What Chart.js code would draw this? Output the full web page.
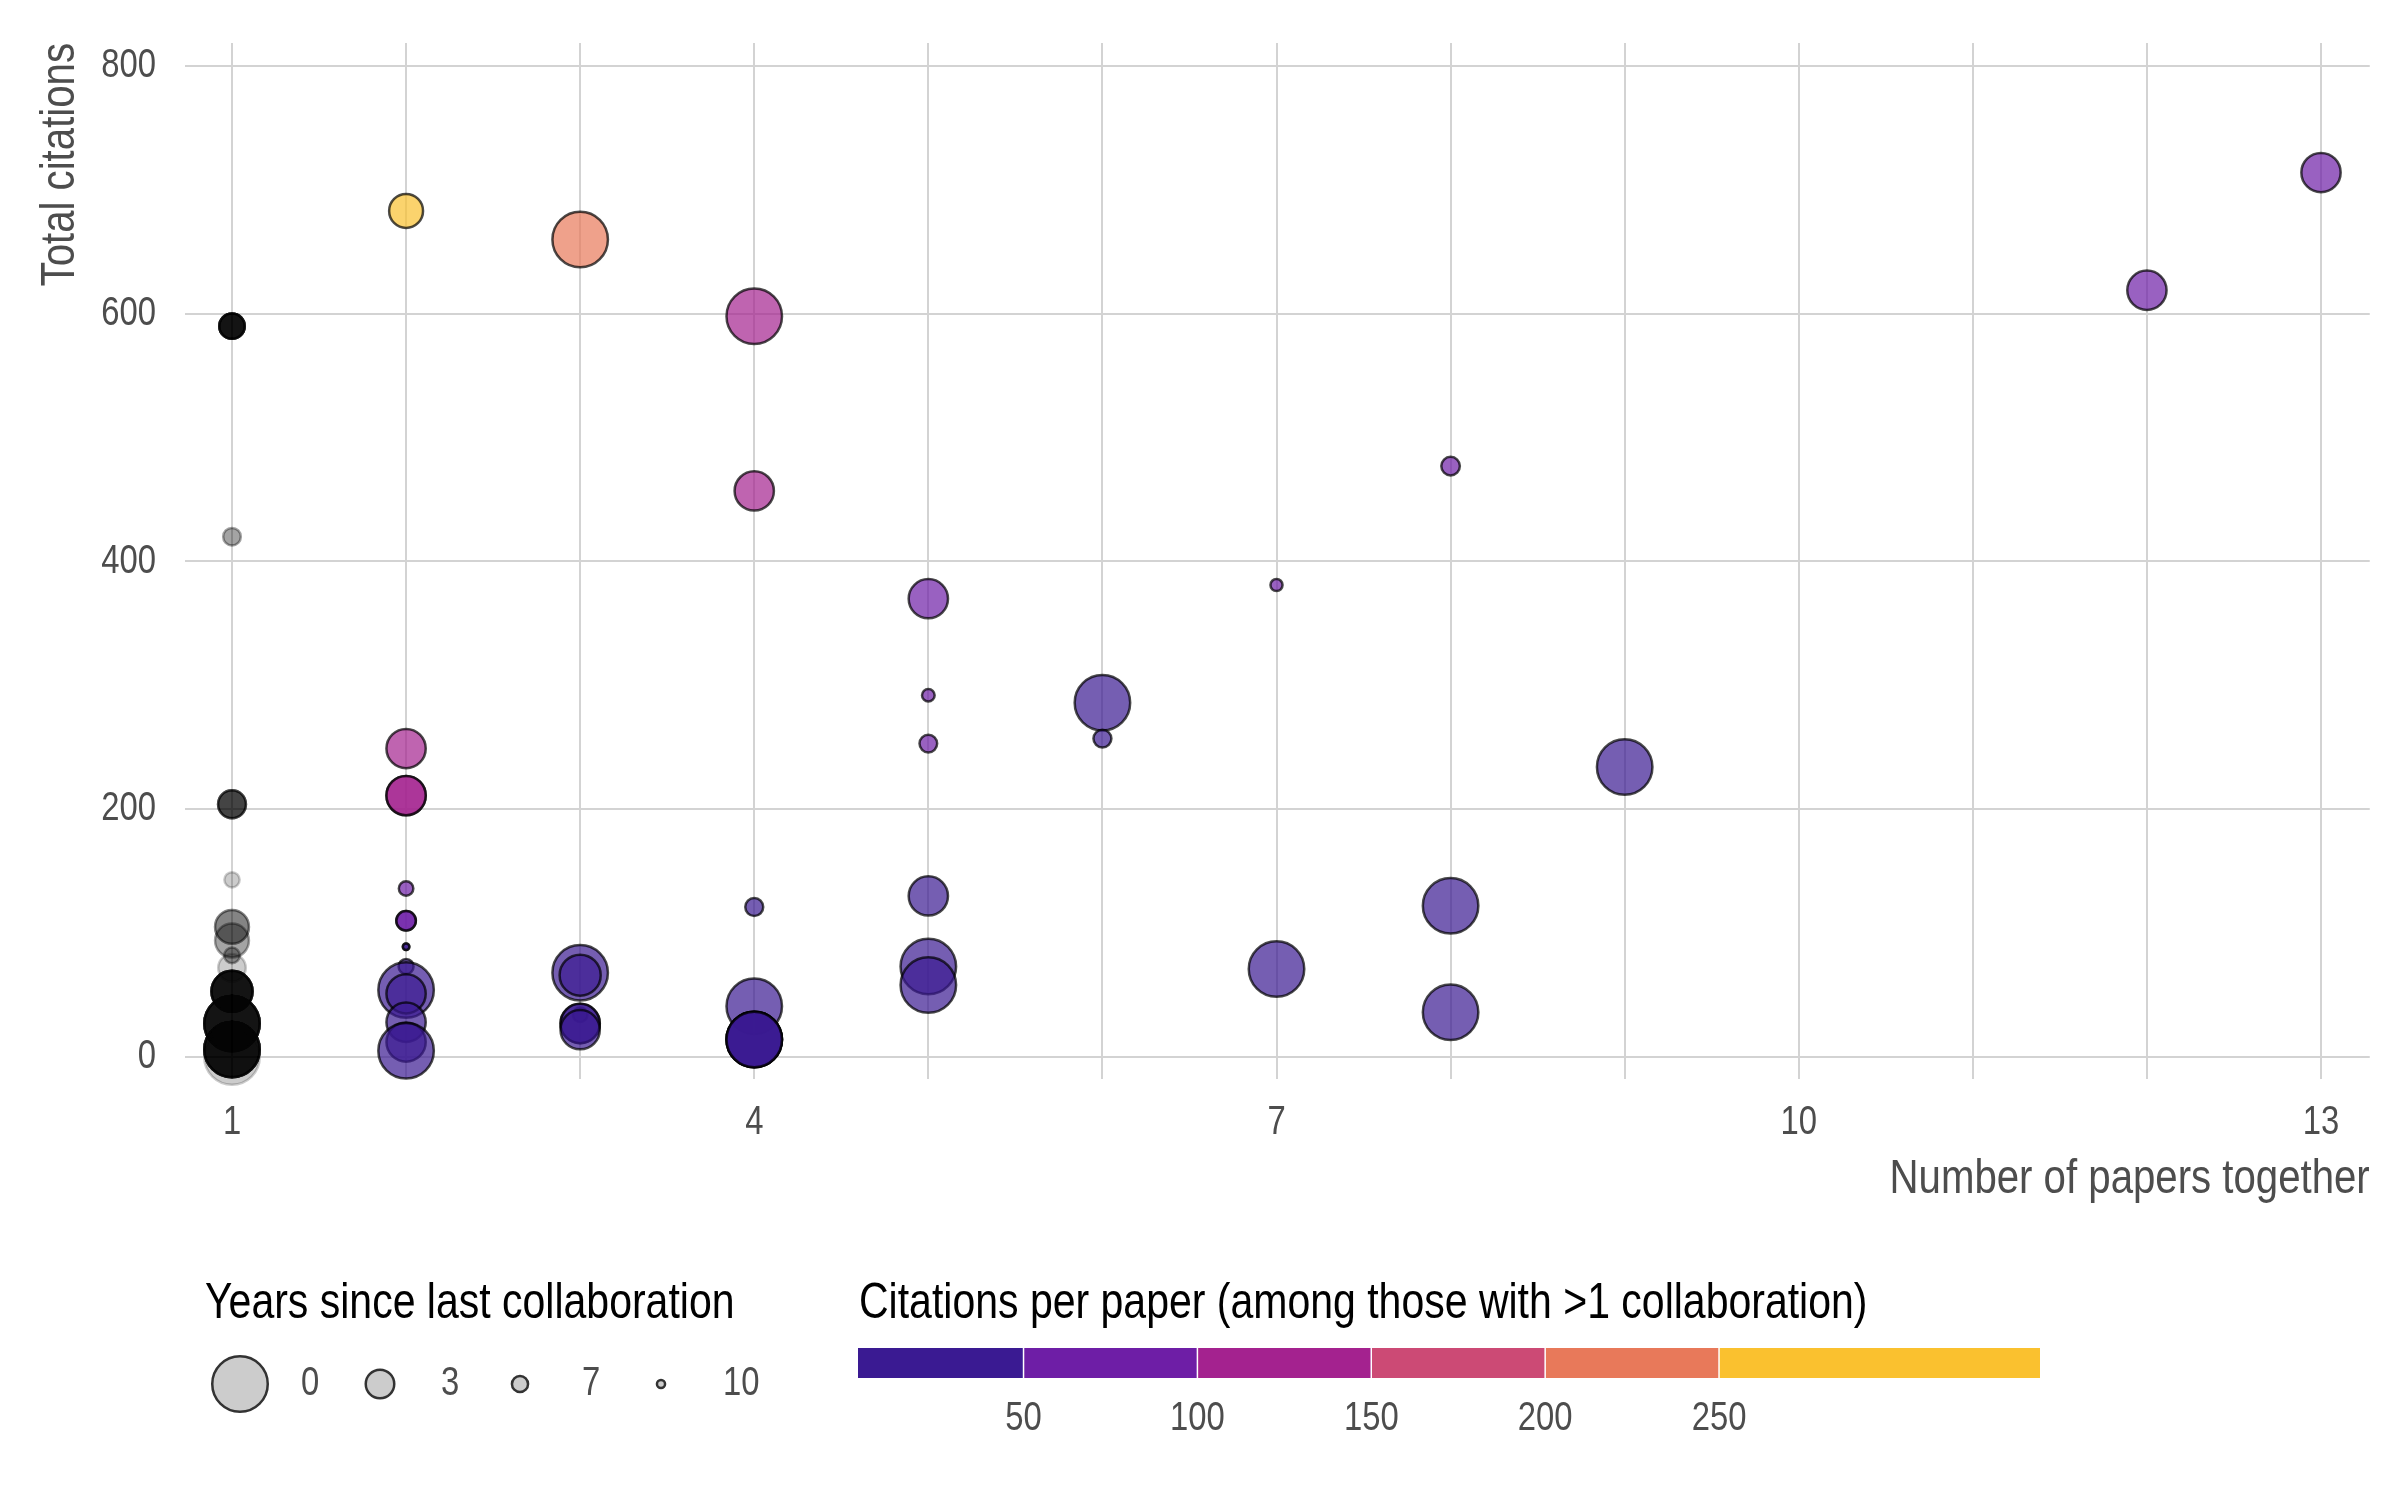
<!DOCTYPE html>
<html><head><meta charset="utf-8">
<script src="https://cdn.jsdelivr.net/npm/chart.js@4.4.0/dist/chart.umd.min.js"></script>
<style>html,body{margin:0;padding:0;background:#fff;}#wrap{width:2400px;height:1500px;}</style>
</head><body><div id="wrap"><canvas id="c" width="2400" height="1500"></canvas></div>
<script>
// ---------- data ----------
const papersTogether = [
  1,1,1,1,1,1,1,1,1,1,1,1,
  2,2,2,2,2,2,2,2,2,2,2,2,
  3,3,3,3,3,3,
  4,4,4,4,4,
  5,5,5,5,5,5,
  6,6, 7,7, 8,8,8, 9, 12, 13
];
const totalCitations = [
  590,420,204,143,105,94,82,72,53,27,6,0,
  683,249,211,136,110,89,73,54,51,28,12,5,
  660,68,66,34,27,22,
  598,457,121,41,14,
  370,292,253,130,73,58,
  286,257, 381,71, 477,122,36, 234, 619, 714
];
const yearsSince = [
  4.0,6.5,3.2,7.3,2.4,2.4,7.2,3.3,1.6,0,0,0,
  2.4,1.8,1.8,7.6,5.9,10.6,7.4,0,1.8,1.8,1.8,0,
  0,0,1.6,7.6,1.8,1.8,
  0,1.8,6.4,0,0,
  1.8,8.3,6.5,1.8,0,0,
  0,6.4, 8.5,0, 6.2,0,0, 0, 1.8, 1.8
];
// number of co-authors sharing the exact same point (overplotted)
const overlapCount = [
  12,2,6,1,3,2,2,1,12,12,12,1,
  1,1,2,1,2,2,1,1,1,1,1,1,
  1,1,1,1,2,1,
  1,1,1,1,4,
  1,1,1,1,1,1,
  1,1, 1,1, 1,1,1, 1, 1, 1
];
const xTicks = [1,2,3,4,5,6,7,8,9,10,11,12,13];
const xTickLabels = [1,4,7,10,13];
const yTicks = [0,200,400,600,800];
const sizeBreaks = [0,3,7,10];
const colorBreaks = [50,100,150,200,250];
const colorBinColors = ['#3a1a92','#6e1ea6','#a4228f','#cc4a75','#e8795a','#fac12f'];
const colorRange = [2.4, 342.3];

// ---------- styles ----------
const FONT = "'Liberation Sans',Arial,sans-serif";
const NARROW = 0.82; // emulate a narrow (condensed) face
const _fillText = CanvasRenderingContext2D.prototype.fillText;
CanvasRenderingContext2D.prototype.fillText = function(t, x, y, mw){
  const w = this.measureText(t).width * NARROW;
  return _fillText.call(this, t, x, y, (mw !== undefined && mw !== null) ? Math.min(mw, w) : w);
};
const SIZE_R = [29, 15.5, 9.3, 5.3];   // outer radius (px) for sizeBreaks
const BORDER = 2.5;
const ALPHA_MULTI = 0.7, ALPHA_SINGLE = 0.2;

function sizeScale(v){
  for(let i=0;i<sizeBreaks.length-1;i++){
    if(v<=sizeBreaks[i+1]){const t=(v-sizeBreaks[i])/(sizeBreaks[i+1]-sizeBreaks[i]);return SIZE_R[i]+t*(SIZE_R[i+1]-SIZE_R[i]);}
  }
  const n=sizeBreaks.length;const s=(SIZE_R[n-1]-SIZE_R[n-2])/(sizeBreaks[n-1]-sizeBreaks[n-2]);
  return Math.max(2,SIZE_R[n-1]+s*(v-sizeBreaks[n-1]));
}
function binColor(v){let i=0;while(i<colorBreaks.length&&v>=colorBreaks[i])i++;return colorBinColors[i];}
function rgba(hex,a){const n=parseInt(hex.slice(1),16);return `rgba(${(n>>16)&255},${(n>>8)&255},${n&255},${a})`;}

const points=[];
papersTogether.forEach((p,i)=>{
  for(let k=0;k<overlapCount[i];k++){
    points.push({x:p,y:totalCitations[i],r:sizeScale(yearsSince[i])-BORDER/2,cpp:p>1?totalCitations[i]/p:null});
  }
});

const legendPlugin={
  id:'ggLegends',
  afterDraw(chart){
    const ctx=chart.ctx;ctx.save();
    // size legend
    ctx.font=`50px ${FONT}`;ctx.fillStyle='#000';ctx.textAlign='left';ctx.textBaseline='alphabetic';
    ctx.fillText('Years since last collaboration',205,1318);
    const keyX=[240,380,520,661], labX=[301,441,582,723], keyY=1384;
    sizeBreaks.forEach((b,i)=>{
      ctx.beginPath();ctx.arc(keyX[i],keyY,sizeScale(b)-BORDER/2,0,Math.PI*2);
      ctx.fillStyle='#cccccc';ctx.fill();ctx.lineWidth=BORDER;ctx.strokeStyle='#333333';ctx.stroke();
      ctx.font=`40px ${FONT}`;ctx.fillStyle='#4d4d4d';ctx.textBaseline='middle';
      ctx.fillText(String(b),labX[i],keyY);
    });
    // colour bar legend
    ctx.font=`50px ${FONT}`;ctx.fillStyle='#000';ctx.textBaseline='alphabetic';
    ctx.fillText('Citations per paper (among those with >1 collaboration)',859,1318);
    const x0=858,x1=2040,y0=1348,h=30;
    const px=v=>x0+(v-colorRange[0])/(colorRange[1]-colorRange[0])*(x1-x0);
    const edges=[colorRange[0],...colorBreaks,colorRange[1]];
    for(let i=0;i<edges.length-1;i++){ctx.fillStyle=colorBinColors[i];ctx.fillRect(px(edges[i]),y0,px(edges[i+1])-px(edges[i]),h);}
    ctx.strokeStyle='#ffffff';ctx.lineWidth=1.5;
    colorBreaks.forEach(b=>{ctx.beginPath();ctx.moveTo(px(b),y0);ctx.lineTo(px(b),y0+h);ctx.stroke();});
    ctx.font=`40px ${FONT}`;ctx.fillStyle='#4d4d4d';ctx.textAlign='center';ctx.textBaseline='middle';
    colorBreaks.forEach(b=>ctx.fillText(String(b),px(b),1419));
    ctx.restore();
  }
};

Chart.defaults.font.family=FONT;
new Chart(document.getElementById('c'),{
  type:'bubble',
  data:{datasets:[{
    data:points,
    backgroundColor:c=>{const d=c.raw;return d.cpp==null?rgba('#000000',ALPHA_SINGLE):rgba(binColor(d.cpp),ALPHA_MULTI);},
    borderColor:c=>{const d=c.raw;return rgba('#000000',d.cpp==null?ALPHA_SINGLE:ALPHA_MULTI);},
    borderWidth:BORDER,
    clip:false
  }]},
  options:{
    responsive:false,devicePixelRatio:1,animation:false,events:[],
    layout:{padding:{left:0,right:27,top:43,bottom:291}},
    plugins:{legend:{display:false},tooltip:{enabled:false}},
    scales:{
      x:{type:'linear',min:0.73,max:13.28,
        afterBuildTicks:s=>{s.ticks=xTicks.map(v=>({value:v}));},
        afterFit:s=>{s.height=130;s.paddingLeft=0;s.paddingRight=0;},
        ticks:{callback:v=>xTickLabels.includes(v)?String(v):'',font:{size:40},color:'#4d4d4d',padding:20,autoSkip:false,maxRotation:0},
        grid:{color:'#d3d3d3',lineWidth:2,drawTicks:false},
        border:{display:false},
        title:{display:true,text:'Number of papers together',align:'end',font:{size:49},color:'#4d4d4d',padding:{top:0,bottom:0}}
      },
      y:{type:'linear',min:-17.8,max:818.6,
        afterBuildTicks:s=>{s.ticks=yTicks.map(v=>({value:v}));},
        afterFit:s=>{s.width=185;s.paddingTop=0;s.paddingBottom=0;},
        ticks:{font:{size:40},color:'#4d4d4d',padding:29},
        grid:{color:'#d3d3d3',lineWidth:2,drawTicks:false},
        border:{display:false},
        title:{display:true,text:'Total citations',align:'end',font:{size:49},color:'#4d4d4d',padding:{top:31,bottom:0}}
      }
    }
  },
  plugins:[legendPlugin]
});
</script></body></html>
